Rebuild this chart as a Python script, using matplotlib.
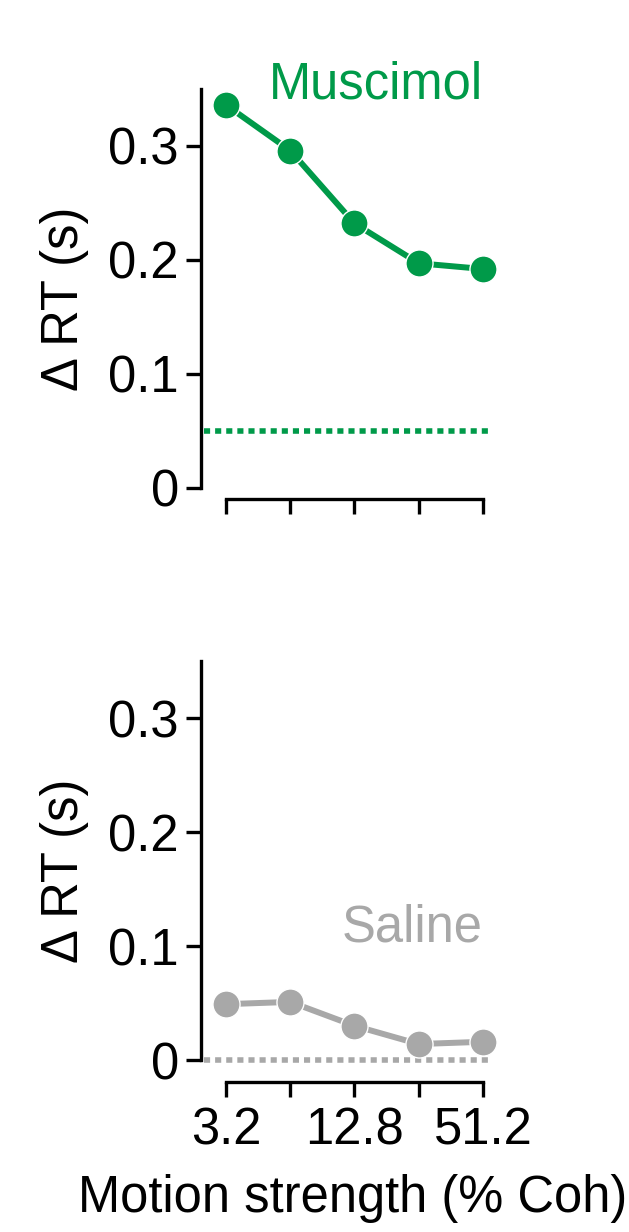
#!/usr/bin/env python

import matplotlib
matplotlib.use("Agg")
import matplotlib.pyplot as plt

# motion strength (% coherence) and change in reaction time (s)
coherence = [3.2, 6.4, 12.8, 25.6, 51.2]
muscimol_drt = [0.336, 0.296, 0.232, 0.197, 0.192]
saline_drt = [0.049, 0.051, 0.030, 0.014, 0.016]
muscimol_ref = 0.05
saline_ref = 0.0

ytick_vals = [0, 0.1, 0.2, 0.3]
ytick_labels = ["0", "0.1", "0.2", "0.3"]
xtick_labels = ["3.2", "", "12.8", "", "51.2"]

GREEN = "#009A49"
GRAY = "#A8A8A8"

plt.rcParams["font.family"] = ["Liberation Sans", "DejaVu Sans"]
FS = 36.5


def style_axes(ax, x_offset):
    ax.set_xscale("log", base=2)
    ax.set_xlim(3.2 * 2 ** -0.389, 51.2 * 2 ** 0.078)
    ax.set_ylim(0, 0.35)
    for side in ("top", "right"):
        ax.spines[side].set_visible(False)
    ax.spines["left"].set_linewidth(2.4)
    ax.spines["bottom"].set_linewidth(2.4)
    ax.spines["left"].set_bounds(0, 0.35)
    ax.spines["bottom"].set_bounds(coherence[0], coherence[-1])
    ax.spines["bottom"].set_position(("outward", x_offset))
    ax.set_yticks(ytick_vals)
    ax.set_yticklabels(ytick_labels)
    ax.set_xticks(coherence)
    ax.xaxis.set_minor_locator(matplotlib.ticker.NullLocator())
    ax.tick_params(axis="both", direction="out", length=11, width=2.4,
                   labelsize=FS, colors="black")
    ax.tick_params(axis="y", pad=5)
    ax.tick_params(axis="x", pad=7)
    ax.set_ylabel("Δ RT (s)", fontsize=FS)
    ax.yaxis.set_label_coords(-0.39, 0.475)


def main() -> int:
    fig = plt.figure(figsize=(6.29, 12.32), dpi=100)
    ax_top = fig.add_axes([201 / 629, 1 - 487.7 / 1232, 287 / 629, 398.7 / 1232])
    ax_bot = fig.add_axes([201 / 629, 1 - 1060 / 1232, 287 / 629, 398.7 / 1232])

    # muscimol panel
    ax_top.axhline(muscimol_ref, xmin=0.012, color=GREEN, lw=4, ls=(0, (1.1, 0.9)),
                   clip_on=False)
    ax_top.plot(coherence, muscimol_drt, "-o", color=GREEN, lw=4.3, ms=19.5,
                mec="white", mew=1.0, clip_on=False, zorder=3)
    ax_top.text(coherence[-1], 0.342, "Muscimol", color=GREEN, fontsize=FS,
                ha="right", va="baseline")
    style_axes(ax_top, 8.4)
    ax_top.set_xticklabels([""] * len(coherence))

    # saline panel
    ax_bot.axhline(saline_ref, xmin=0.012, color=GRAY, lw=4, ls=(0, (1.1, 0.9)),
                   clip_on=False)
    ax_bot.plot(coherence, saline_drt, "-o", color=GRAY, lw=4.3, ms=19.5,
                mec="white", mew=1.0, clip_on=False, zorder=3)
    ax_bot.text(coherence[-1], 0.104, "Saline", color=GRAY, fontsize=FS,
                ha="right", va="baseline")
    style_axes(ax_bot, 15.6)
    ax_bot.set_xticklabels(xtick_labels)
    ax_bot.set_xlabel("Motion strength (% Coh)", fontsize=FS)
    ax_bot.xaxis.set_label_coords(0.53, -0.285)

    fig.savefig("out.png", dpi=100)
    return 0


if __name__ == "__main__":
    main()
